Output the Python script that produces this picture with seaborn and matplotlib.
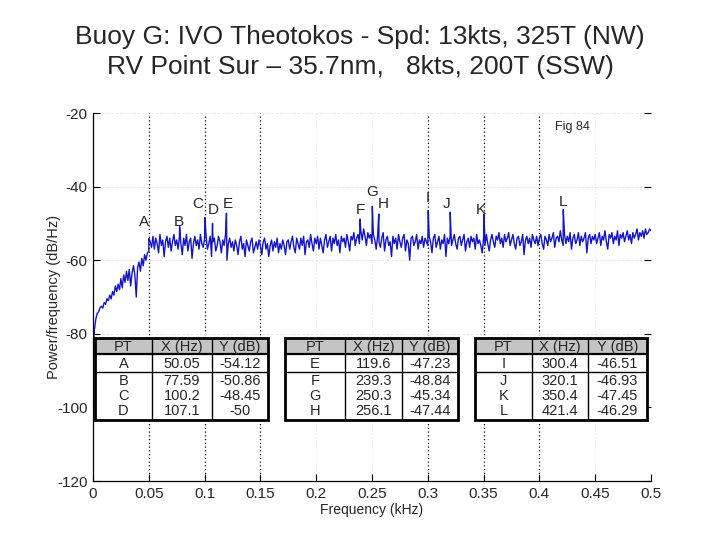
import numpy as np
import pandas as pd
import matplotlib
matplotlib.use("Agg")
import matplotlib.pyplot as plt
import seaborn as sns
from matplotlib.patches import Rectangle
from matplotlib.lines import Line2D

# spectrum, one value every 1.25 Hz from 0 to 500 Hz
step_hz = 1.25
psd_db = [
    -86, -79, -76, -74.5, -74, -73, -72.5, -73, -71.5, -72, -70.5, -71, -69.5, -70.5, -68.5, -69.5, -67, -68.5, -66.5, -68,
    -65, -67.5, -64, -66, -63, -65.5, -62.5, -67, -63.5, -61.5, -64, -70, -62, -60.5, -63, -59.5, -61.5, -58.5, -60, -58,
    -57.5, -55, -56.5, -53.5, -57, -54, -55.5, -58, -53, -56, -54.5, -59, -55, -53.5, -56.5, -54, -57.5, -55, -53, -56,
    -54.5, -57, -53.5, -55.5, -58.5, -54, -56, -53, -57.5, -55, -54, -59.5, -55.5, -53.5, -56, -54.5, -57, -53, -55.5, -56.5,
    -54, -53, -57, -55.5, -53.5, -59, -55, -54, -57.5, -56, -53.5, -55, -58, -54.5, -56, -53, -60, -55.5, -54, -56.5,
    -55, -57.5, -54.5, -56, -58.5, -55, -53.5, -57, -55.5, -59, -54.5, -56, -57.5, -55, -54, -58, -56.5, -55, -57, -54.5,
    -56, -58.5, -55, -54, -57, -55.5, -59, -56, -54.5, -57.5, -55, -56.5, -54, -58, -55.5, -57, -54.5, -56, -58.5, -55,
    -54.5, -57, -55, -53.5, -56.5, -58, -54, -55.5, -57, -54, -56, -53.5, -58.5, -55, -54.5, -56.5, -53, -55.5, -57.5, -54,
    -55.5, -53.5, -57, -54, -56, -58, -54.5, -53, -56.5, -55, -53.5, -57.5, -54, -55.5, -53, -56, -54.5, -58, -53.5, -55,
    -54, -56.5, -53, -55, -57.5, -53.5, -54.5, -52.5, -56, -54, -53, -55.5, -52, -54.5, -51.5, -53.5, -56, -52.5, -54, -53,
    -55.5, -53, -54.5, -57, -53.5, -55, -56.5, -54, -52.5, -57.5, -54.5, -53.5, -56, -55, -59, -53.5, -55.5, -54, -57, -53,
    -55, -56.5, -54, -53, -57.5, -54.5, -55.5, -60, -54, -53.5, -56, -55, -53, -57, -54.5, -55.5, -53.5, -56.5, -54, -55,
    -56, -53.5, -55, -58, -54, -53, -56.5, -55, -53.5, -57, -54.5, -55.5, -53, -59, -54, -55.5, -53.5, -56, -54.5, -53,
    -55.5, -57, -54, -53.5, -56, -54.5, -53, -57.5, -55, -54, -56.5, -53.5, -55, -54, -57, -53, -55.5, -54.5, -56, -58,
    -54, -56, -53, -55.5, -57.5, -54.5, -53, -55, -56.5, -53.5, -54.5, -52.5, -55.5, -54, -56.5, -53, -55, -54, -52.5, -56,
    -54.5, -53, -55.5, -57, -54, -53.5, -56, -55, -53, -58.5, -54.5, -53.5, -55.5, -54, -56.5, -53, -54.5, -55.5, -53.5, -56,
    -54, -53, -55.5, -57, -53.5, -54.5, -56, -53, -55, -54, -52.5, -56.5, -54, -53.5, -55, -52, -54.5, -56, -53, -55.5,
    -53.5, -55, -52.5, -57, -54, -53, -55.5, -54.5, -52.5, -56, -53.5, -55, -54, -52.5, -58, -54, -53, -55.5, -53.5, -54.5,
    -53, -55.5, -54, -52.5, -56, -53.5, -54.5, -52, -55, -57, -53, -54, -52.5, -55.5, -53.5, -54.5, -52, -56, -53, -54,
    -52.5, -55, -53.5, -52, -54.5, -53, -55.5, -52.5, -54, -53, -51.5, -54.5, -52.5, -53.5, -52, -54, -51.5, -53, -52.5, -51.5,
    -52,
]

# marked peaks (from the tables)
pt_names = ["A", "B", "C", "D", "E", "F", "G", "H", "I", "J", "K", "L"]
pt_x = [50.05, 77.59, 100.2, 107.1, 119.6, 239.3, 250.3, 256.1, 300.4, 320.1, 350.4, 421.4]
pt_y = [-54.12, -50.86, -48.45, -50, -47.23, -48.84, -45.34, -47.44, -46.51, -46.93, -47.45, -46.29]

title_lines = ["Buoy G: IVO Theotokos - Spd: 13kts, 325T (NW)",
               "RV Point Sur \u2013 35.7nm,   8kts, 200T (SSW)"]

freq_hz = np.arange(len(psd_db)) * step_hz
df = pd.DataFrame({"f": np.concatenate([freq_hz, pt_x]) / 1000.0,
                   "p": np.concatenate([psd_db, pt_y])}).sort_values("f")

sns.set_theme(style="white")
plt.rcParams["font.family"] = ["Liberation Sans", "DejaVu Sans"]
plt.rcParams["axes.unicode_minus"] = False

fig = plt.figure(figsize=(7.2, 5.4), dpi=100)
ax = fig.add_axes([93 / 720, 1 - 481 / 540, 558 / 720, 368 / 540])

# grid lines
for gx in [0.05, 0.1, 0.15, 0.3, 0.35, 0.4]:
    ax.axvline(gx, color="black", ls=(0, (1, 2)), lw=0.9, zorder=0)
for gx in [0.2, 0.25, 0.45]:
    ax.axvline(gx, color="#e4e4e4", ls=(0, (1, 2)), lw=0.8, zorder=0)
for gy in [-20, -40, -60, -80]:
    ax.axhline(gy, color="#e4e4e4", ls=(0, (2, 2)), lw=0.8, zorder=0)

sns.lineplot(data=df, x="f", y="p", ax=ax, color="#1414c8", lw=1.0,
             estimator=None, sort=False)

# peak letters
label_off = {"A": (-0.004, 4.5), "B": (-0.001, 1.3), "C": (-0.006, 3.7),
             "D": (0.001, 3.6), "E": (0.001, 2.5), "F": (0.0, 2.4),
             "G": (0.0, 3.8), "H": (0.004, 2.7), "I": (0.0, 3.4),
             "J": (-0.003, 2.2), "K": (-0.003, 1.1), "L": (0.0, 2.1)}
for n, x, y in zip(pt_names, pt_x, pt_y):
    dx, dy = label_off[n]
    ax.text(x / 1000 + dx, y + dy, n, ha="center", va="center", fontsize=11)

ax.set_xlim(0, 0.5)
ax.set_ylim(-120, -20)
ax.set_xticks([0, 0.05, 0.1, 0.15, 0.2, 0.25, 0.3, 0.35, 0.4, 0.45, 0.5])
ax.set_xticklabels(["0", "0.05", "0.1", "0.15", "0.2", "0.25", "0.3", "0.35", "0.4", "0.45", "0.5"])
ax.set_yticks([-120, -100, -80, -60, -40, -20])
ax.tick_params(direction="in", length=5, width=0.8, labelsize=11, right=True,
               left=True, bottom=True, pad=4, color="black")
ax.tick_params(axis="x", pad=4)
for s in ["top", "right"]:
    ax.spines[s].set_visible(False)
for s in ["left", "bottom"]:
    ax.spines[s].set_color("black")
    ax.spines[s].set_linewidth(0.9)
ax.set_xlabel("Frequency (kHz)", fontsize=10, labelpad=2)
ax.set_ylabel("Power/frequency (dB/Hz)", fontsize=10.5)
ax.yaxis.set_label_coords((61 - 93) / 558, 0.5)
ax.patch.set_alpha(0)

fig.text(0.5, 1 - 37 / 540, title_lines[0], ha="center", va="center", fontsize=19)
fig.text(0.5, 1 - 67 / 540, title_lines[1], ha="center", va="center", fontsize=19)
fig.text(572 / 720, 1 - 127 / 540, "Fig 84", ha="center", va="center", fontsize=9)


def px(x, y):
    return x / 720, 1 - y / 540


def draw_table(cols, names, xs, ys):
    top, hdr, row1, bot = 338, 354, 372, 420
    left, right = cols[0], cols[-1]
    tr = fig.transFigure
    fig.patches.append(Rectangle(px(left, hdr), (right - left) / 720, (hdr - top) / 540,
                                 transform=tr, facecolor="#c4c4c4", edgecolor="none", zorder=3))
    fig.patches.append(Rectangle(px(left, bot), (right - left) / 720, (bot - hdr) / 540,
                                 transform=tr, facecolor="white", edgecolor="none", zorder=3))
    for yy, w in [(hdr, 1.6), (row1, 1.0)]:
        fig.lines.append(Line2D([left / 720, right / 720], [1 - yy / 540] * 2,
                                transform=tr, color="black", lw=w, zorder=4))
    for xx in cols[1:-1]:
        fig.lines.append(Line2D([xx / 720] * 2, [1 - top / 540, 1 - bot / 540],
                                transform=tr, color="black", lw=1.0, zorder=4))
    fig.patches.append(Rectangle(px(left, bot), (right - left) / 720, (bot - top) / 540,
                                 transform=tr, facecolor="none", edgecolor="black", lw=2.0, zorder=5))
    centers = [(cols[i] + cols[i + 1]) / 2 for i in range(3)]
    for c, h in zip(centers, ["PT", "X (Hz)", "Y (dB)"]):
        fig.text(*px(c, 347), h, ha="center", va="center", fontsize=10.5, zorder=6)
    rows_y = [364, 381, 396, 411]
    for ry, n, x, y in zip(rows_y, names, xs, ys):
        for c, s in zip(centers, [n, f"{x:.4g}", f"{y:.4g}"]):
            fig.text(*px(c, ry), s, ha="center", va="center", fontsize=10.5, zorder=6)


draw_table([95, 152, 212, 268], pt_names[0:4], pt_x[0:4], pt_y[0:4])
draw_table([285, 345, 402, 458], pt_names[4:8], pt_x[4:8], pt_y[4:8])
draw_table([475, 532, 588, 647], pt_names[8:12], pt_x[8:12], pt_y[8:12])

fig.savefig("out.png", dpi=100)
